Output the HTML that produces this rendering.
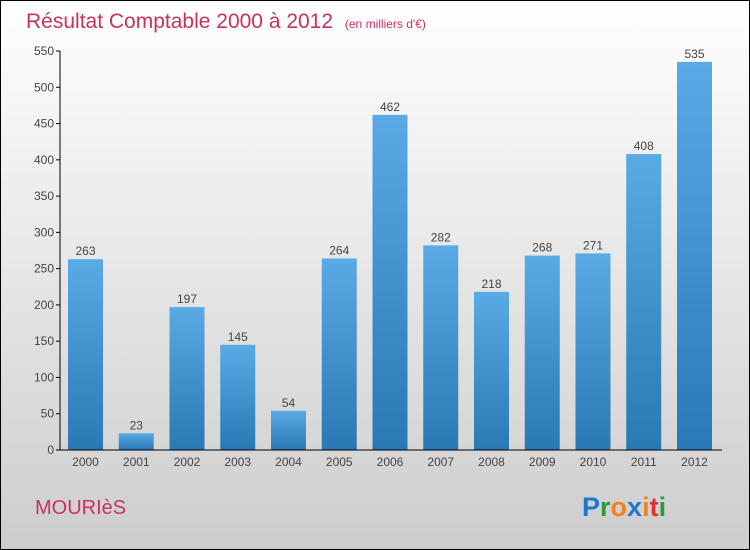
<!DOCTYPE html>
<html><head><meta charset="utf-8"><style>
body{margin:0}
svg{display:block;font-family:"Liberation Sans",sans-serif}
</style></head><body>
<svg id="c" width="750" height="550" xmlns="http://www.w3.org/2000/svg">
<defs>
<linearGradient id="bg" x1="0" y1="0" x2="0" y2="1"><stop offset="0" stop-color="#ffffff"/><stop offset="1" stop-color="#cdcdcd"/></linearGradient>
<linearGradient id="bar" x1="0" y1="0" x2="0" y2="1"><stop offset="0" stop-color="#5aaae6"/><stop offset="1" stop-color="#2a78b4"/></linearGradient>
</defs>
<rect x="0.5" y="0.5" width="749" height="549" fill="url(#bg)" stroke="#000"/>
<text x="26" y="28" font-size="21" fill="#c8325f">Résultat Comptable 2000 à 2012 <tspan font-size="12" dx="6">(en milliers d'€)</tspan></text>
<g id="yaxis"></g>
<g id="bars"></g>
<g id="xaxis"></g>
<text x="35" y="514" font-size="20" fill="#c8325f">MOURIèS</text>
<text x="582" y="516" font-size="27" font-weight="bold"><tspan fill="#1e78d2">P</tspan><tspan fill="#2a9a3a">r</tspan><tspan fill="#f08020">o</tspan><tspan fill="#1e78d2">x</tspan><tspan fill="#f08020">i</tspan><tspan fill="#e03030">t</tspan><tspan fill="#2a9a3a">i</tspan></text>
</svg>
<script>
const years=["2000","2001","2002","2003","2004","2005","2006","2007","2008","2009","2010","2011","2012"];
const values=[263,23,197,145,54,264,462,282,218,268,271,408,535];
const yTicks=[0,50,100,150,200,250,300,350,400,450,500,550];
const NS="http://www.w3.org/2000/svg";
const y0=450,y1=51,vmax=550,x0=68,step=50.75,bw=35;
const y=v=>y0-(v/vmax)*(y0-y1);
const x=i=>x0+i*step;
function mk(t,a,p,txt){const e=document.createElementNS(NS,t);for(const k in a)e.setAttribute(k,a[k]);if(txt!==undefined)e.textContent=txt;p.appendChild(e);return e;}
const ya=document.getElementById('yaxis'),ba=document.getElementById('bars'),xa=document.getElementById('xaxis');
mk('line',{x1:60,y1:y1,x2:60,y2:y0,stroke:'#000'},ya);
yTicks.forEach(t=>{
 mk('line',{x1:56,x2:60,y1:y(t),y2:y(t),stroke:'#000'},ya);
 const e=mk('text',{x:54,y:y(t)+4,'text-anchor':'end','font-size':12,fill:'#444'},ya,String(t));
 
 
});
mk('line',{x1:58,y1:y0,x2:722,y2:y0,stroke:'#000'},xa);
values.forEach((v,i)=>{
 const r=mk('rect',{x:x(i),y:y(v),width:bw,height:y0-y(v),fill:'url(#bar)'},ba);
 
 
 const t=mk('text',{x:x(i)+bw/2,y:y(v)-4,'text-anchor':'middle','font-size':12,fill:'#444'},ba,String(v));
 
 
 const l=mk('text',{x:x(i)+bw/2,y:466,'text-anchor':'middle','font-size':12,fill:'#444'},xa,years[i]);
 
 
});
</script>
</body></html>
